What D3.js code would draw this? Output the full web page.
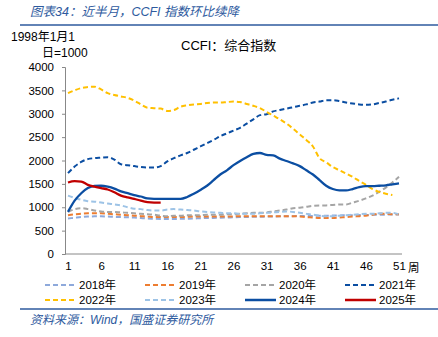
<!DOCTYPE html>
<html>
<head>
<meta charset="utf-8">
<script src="https://cdn.jsdelivr.net/npm/d3@7"></script>
<style>
  body { margin: 0; background: #fff; }
  text { font-family: "Liberation Sans", Arial, "Noto Sans CJK SC", sans-serif; }
  .cjk { font-family: "Liberation Sans", "Noto Sans CJK SC", sans-serif; }
</style>
</head>
<body>
<svg></svg>
<script>
let weeks = d3.range(1, 52)
let xTicks = [1, 6, 11, 16, 21, 26, 31, 36, 41, 46, 51]
let yTicks = [0, 500, 1000, 1500, 2000, 2500, 3000, 3500, 4000]

let years = ['2018年', '2019年', '2020年', '2021年', '2022年', '2023年', '2024年', '2025年']

let v2018 = [760, 775, 790, 800, 805, 805, 800, 795, 790, 785, 780, 770, 760, 755, 750, 750, 750, 752, 755, 760, 765, 770, 772, 775, 780, 785, 790, 792, 795, 798, 800, 802, 805, 808, 810, 812, 815, 815, 818, 820, 822, 825, 828, 830, 832, 835, 838, 840, 842, 845, 845]
let v2019 = [830, 850, 860, 870, 870, 870, 860, 850, 840, 830, 820, 810, 800, 790, 790, 790, 790, 790, 795, 800, 800, 800, 800, 800, 800, 805, 810, 810, 810, 810, 810, 810, 810, 810, 810, 800, 790, 780, 770, 770, 770, 780, 790, 800, 810, 820, 840, 860, 860, 850, 850]
let v2020 = [900, 960, 980, 960, 930, 910, 900, 900, 890, 880, 870, 860, 850, 840, 820, 810, 820, 820, 830, 830, 830, 840, 840, 840, 850, 850, 860, 870, 880, 880, 890, 910, 930, 950, 980, 990, 1010, 1030, 1040, 1040, 1050, 1060, 1060, 1100, 1140, 1190, 1250, 1330, 1420, 1530, 1650]
let v2021 = [1730, 1870, 1970, 2030, 2050, 2060, 2070, 2020, 1920, 1900, 1880, 1860, 1850, 1850, 1880, 1980, 2050, 2110, 2160, 2230, 2300, 2370, 2440, 2520, 2580, 2640, 2700, 2790, 2880, 2970, 2990, 3050, 3080, 3110, 3140, 3170, 3200, 3240, 3260, 3290, 3290, 3270, 3240, 3220, 3200, 3190, 3200, 3230, 3260, 3300, 3330]
let v2022 = [3440, 3500, 3550, 3570, 3580, 3520, 3440, 3400, 3370, 3340, 3280, 3200, 3130, 3120, 3110, 3060, 3080, 3150, 3180, 3200, 3210, 3230, 3240, 3240, 3250, 3260, 3250, 3210, 3170, 3120, 3040, 2960, 2880, 2790, 2680, 2560, 2440, 2300, 2050, 1960, 1860, 1790, 1720, 1650, 1560, 1480, 1390, 1330, 1290, 1260]
let v2023 = [1250, 1200, 1160, 1130, 1120, 1100, 1080, 1060, 1040, 1000, 970, 960, 940, 930, 930, 950, 960, 950, 940, 930, 910, 900, 890, 880, 870, 870, 860, 860, 860, 870, 880, 890, 900, 910, 900, 880, 860, 840, 820, 810, 810, 820, 830, 840, 850, 860, 860, 870, 880, 880, 850]
let v2024 = [900, 1140, 1300, 1410, 1455, 1460, 1440, 1400, 1340, 1300, 1260, 1230, 1190, 1180, 1180, 1180, 1180, 1180, 1220, 1290, 1370, 1460, 1580, 1700, 1790, 1900, 1990, 2070, 2140, 2160, 2120, 2110, 2040, 1990, 1940, 1880, 1790, 1700, 1580, 1460, 1390, 1360, 1360, 1390, 1430, 1450, 1450, 1460, 1470, 1490, 1510]
let v2025 = [1530, 1560, 1550, 1480, 1440, 1410, 1380, 1320, 1250, 1210, 1180, 1140, 1110, 1100, 1100]

let seriesValues = [v2018, v2019, v2020, v2021, v2022, v2023, v2024, v2025]
let colors = ['#8EA9DB', '#ED7D31', '#A5A5A5', '#0B4EA2', '#FFC000', '#9DC3E6', '#0B4EA2', '#C00000']
let dashed = [true, true, true, true, true, true, false, false]

let width = 438
let height = 337

let svg = d3.select('svg').attr('width', width).attr('height', height)

let xScale = d3.scaleLinear().domain([1, 51]).range([68, 399])
let yScale = d3.scaleLinear().domain([0, 4000]).range([254, 67])

// header
svg.append('text').attr('class', 'cjk')
    .attr('x', 30).attr('y', 16)
    .attr('font-size', 12.5).attr('font-style', 'italic')
    .attr('fill', '#2E5A9E')
    .text('图表34：近半月，CCFI 指数环比续降')
svg.append('line').attr('x1', 20).attr('x2', 438).attr('y1', 25).attr('y2', 25)
    .attr('stroke', '#2E5A9E').attr('stroke-width', 1.5)

// footer
svg.append('line').attr('x1', 20).attr('x2', 438).attr('y1', 309).attr('y2', 309)
    .attr('stroke', '#2E5A9E').attr('stroke-width', 1.5)
svg.append('text').attr('class', 'cjk')
    .attr('x', 30).attr('y', 324)
    .attr('font-size', 12).attr('font-style', 'italic')
    .attr('fill', '#2E5A9E')
    .text('资料来源：Wind，国盛证券研究所')

// unit + title
svg.append('text').attr('class', 'cjk').attr('x', 11).attr('y', 41)
    .attr('font-size', 12).attr('fill', '#000').text('1998年1月1')
svg.append('text').attr('class', 'cjk').attr('x', 42).attr('y', 57)
    .attr('font-size', 12).attr('fill', '#000').text('日=1000')
svg.append('text').attr('class', 'cjk').attr('x', 181).attr('y', 50)
    .attr('font-size', 13).attr('fill', '#000').text('CCFI：综合指数')

// axes
let yAxis = d3.axisLeft(yScale).tickValues(yTicks).tickSize(3).tickPadding(8).tickFormat(d3.format('d'))
let gy = svg.append('g').attr('transform', 'translate(65,0)').call(yAxis)
gy.selectAll('text').attr('font-size', 11.5).attr('fill', '#000')
gy.selectAll('line, path').attr('stroke', '#888')

let xAxis = d3.axisBottom(xScale).tickValues(xTicks).tickSize(0).tickPadding(8).tickFormat(d3.format('d'))
let gx = svg.append('g').attr('transform', 'translate(0,254)').call(xAxis)
gx.select('path').attr('d', 'M65,0H402').attr('stroke', '#888')
gx.selectAll('text').attr('font-size', 11.5).attr('fill', '#000')
svg.append('text').attr('class', 'cjk').attr('x', 408).attr('y', 272)
    .attr('font-size', 11.5).text('周')

// lines
let line = d3.line()
    .x((d, i) => xScale(weeks[i]))
    .y(d => yScale(d))
    .curve(d3.curveMonotoneX)

seriesValues.forEach((vals, i) => {
    svg.append('path')
        .attr('d', line(vals))
        .attr('fill', 'none')
        .attr('stroke', colors[i])
        .attr('stroke-width', dashed[i] ? 2 : 2.3)
        .attr('stroke-dasharray', dashed[i] ? '5,3' : null)
})

// legend
let legX = [45, 145, 245, 345]
let legY = [285, 300]
years.forEach((y, i) => {
    let lx = legX[i % 4]
    let ly = legY[Math.floor(i / 4)]
    svg.append('line').attr('x1', lx).attr('x2', lx + 31).attr('y1', ly).attr('y2', ly)
        .attr('stroke', colors[i]).attr('stroke-width', dashed[i] ? 2 : 2.5)
        .attr('stroke-dasharray', dashed[i] ? '5,3' : null)
    svg.append('text').attr('class', 'cjk').attr('x', lx + 34).attr('y', ly + 4)
        .attr('font-size', 11.5).text(y)
})
</script>
</body>
</html>
